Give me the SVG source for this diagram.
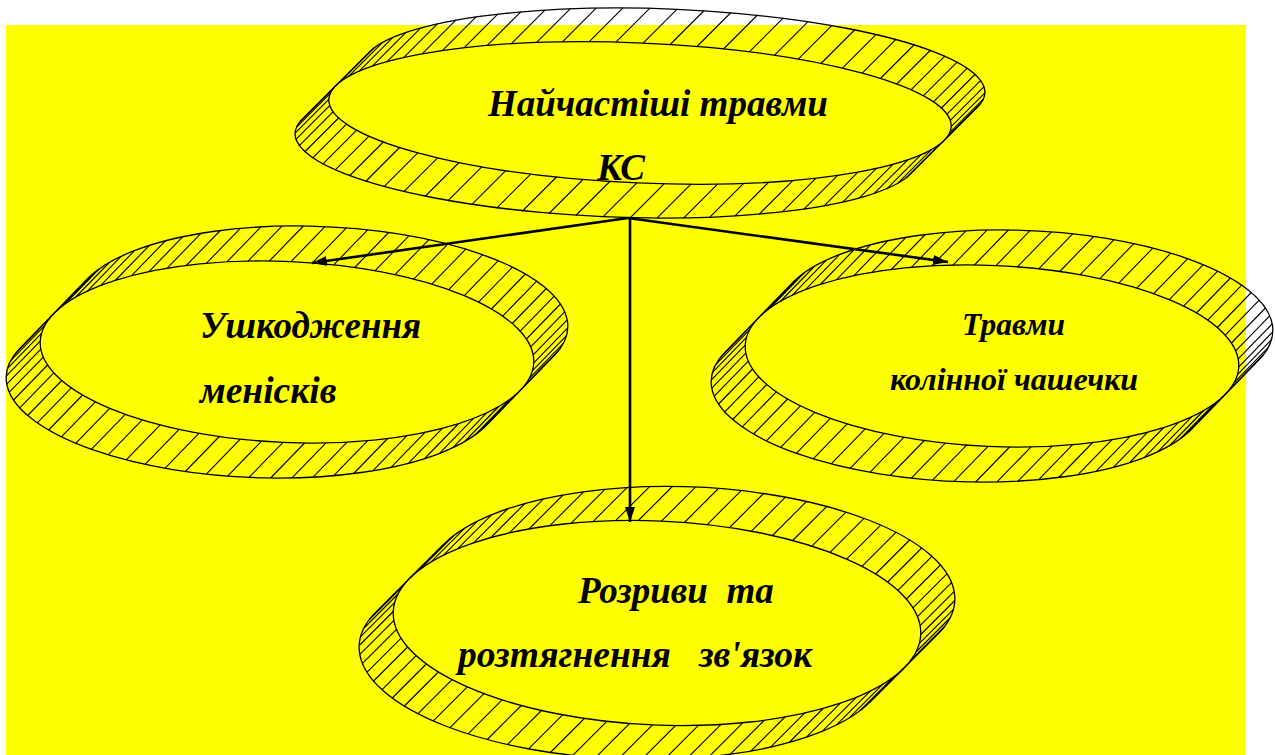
<svg xmlns="http://www.w3.org/2000/svg" xmlns:xlink="http://www.w3.org/1999/xlink" width="1275" height="755" viewBox="0 0 1275 755">
<defs>
<style>
.ring{fill:none;stroke:#000;stroke-width:1.3}
.hatch{fill:none;stroke:#000;stroke-width:1.1}
.lbl{font-family:"Liberation Serif","Times New Roman",serif;font-weight:bold;font-style:italic;fill:#000}
.conn{fill:none;stroke:#000;stroke-width:2.6}
</style>
<marker id="arr" markerUnits="userSpaceOnUse" markerWidth="16" markerHeight="12" refX="15" refY="5" orient="auto">
<path d="M0,0 L15,5 L0,10 z" fill="#000"/>
</marker>
<path id="hTop" class="hatch" d="M-299.8 -31.2l34 -34M-291.4 -36.7l34 -34M-280.8 -41.9l34 -34M-268 -46.7l34 -34M-253.2 -51.2l34 -34M-236.4 -55.4l34 -34M-217.9 -59.1l34 -34M-197.7 -62.3l34 -34M-176 -65.1l34 -34M-153 -67.4l34 -34M-128.8 -69.1l34 -34M-103.6 -70.4l34 -34M-77.6 -71.1l34 -34M-51 -71.2l34 -34M-24.1 -70.8l34 -34M3.1 -69.9l34 -34M30.2 -68.5l34 -34M57 -66.5l34 -34M83.5 -64l34 -34M109.3 -61.1l34 -34M134.3 -57.6l34 -34M158.2 -53.8l34 -34M181 -49.5l34 -34M202.4 -44.8l34 -34M222.2 -39.8l34 -34M240.4 -34.5l34 -34M256.7 -29l34 -34M271 -23.2l34 -34M283.3 -17.2l34 -34M293.5 -11.2l34 -34M301.4 -5l34 -34M307 1.2l34 -34M310.3 7.4l34 -34M311.2 13.6l34 -34M309.7 19.6l34 -34M305.9 25.5l34 -34"/>
<path id="hSide" class="hatch" d="M-230.5 -41l34 -35M-222 -48l34 -35M-211.7 -54.5l34 -35M-199.9 -60.7l34 -35M-186.5 -66.4l34 -35M-171.7 -71.5l34 -35M-155.6 -76.2l34 -35M-138.3 -80.2l34 -35M-120 -83.7l34 -35M-100.7 -86.5l34 -35M-80.7 -88.6l34 -35M-60.1 -90.1l34 -35M-39 -90.9l34 -35M-17.6 -91l34 -35M4 -90.4l34 -35M25.4 -89.1l34 -35M46.7 -87.2l34 -35M67.7 -84.5l34 -35M88.1 -81.3l34 -35M107.9 -77.4l34 -35M126.8 -72.9l34 -35M144.8 -67.9l34 -35M161.7 -62.3l34 -35M177.3 -56.3l34 -35M191.6 -49.9l34 -35M204.4 -43l34 -35M215.7 -35.9l34 -35M225.3 -28.5l34 -35M233.2 -20.8l34 -35M239.4 -13l34 -35M243.7 -5.1l34 -35M246.2 2.9l34 -35M246.8 10.8l34 -35M245.5 18.6l34 -35M242.3 26.3l34 -35M237.3 33.8l34 -35"/>
<path id="hBot" class="hatch" d="M-246.3 -45.7l34 -34M-237.2 -53.5l34 -34M-226.2 -60.9l34 -34M-213.5 -67.9l34 -34M-199.2 -74.3l34 -34M-183.4 -80.2l34 -34M-166.1 -85.5l34 -34M-147.6 -90.1l34 -34M-128 -94l34 -34M-107.4 -97.2l34 -34M-86 -99.7l34 -34M-64 -101.4l34 -34M-41.4 -102.4l34 -34M-18.6 -102.5l34 -34M4.5 -101.9l34 -34M27.4 -100.5l34 -34M50.2 -98.4l34 -34M72.6 -95.5l34 -34M94.4 -91.8l34 -34M115.5 -87.5l34 -34M135.7 -82.5l34 -34M154.9 -76.9l34 -34M173 -70.7l34 -34M189.7 -63.9l34 -34M204.9 -56.7l34 -34M218.6 -49l34 -34M230.7 -41l34 -34M240.9 -32.6l34 -34M249.4 -24l34 -34M255.9 -15.2l34 -34M260.5 -6.4l34 -34M263.1 2.6l34 -34M263.8 11.5l34 -34M262.4 20.4l34 -34M259 29l34 -34M253.6 37.5l34 -34"/>
<g id="ringTop">
<path class="ring" d="M-270.2 -61.4A311.5 70 2.5 0 1 338.2 -6.6L270.2 61.4A311.5 70 2.5 0 1 -338.2 6.6Z"/>
<ellipse class="ring" rx="311.5" ry="70" transform="rotate(2.5)"/>
<use xlink:href="#hTop"/>
<use xlink:href="#hTop" transform="rotate(180)"/>
</g>
<g id="ringSide">
<path class="ring" d="M-199.4 -73.3A247 90.5 2.5 0 1 267.4 3.3L199.4 73.3A247 90.5 2.5 0 1 -267.4 -3.3Z"/>
<ellipse class="ring" rx="247" ry="90.5" transform="rotate(2.5)"/>
<use xlink:href="#hSide"/>
<use xlink:href="#hSide" transform="rotate(180)"/>
</g>
<g id="ringBot">
<path class="ring" d="M-213.2 -78.9A264 102 2.5 0 1 281.2 10.9L213.2 78.9A264 102 2.5 0 1 -281.2 -10.9Z"/>
<ellipse class="ring" rx="264" ry="102" transform="rotate(2.5)"/>
<use xlink:href="#hBot"/>
<use xlink:href="#hBot" transform="rotate(180)"/>
</g>
</defs>
<rect x="6" y="25" width="1240" height="730" fill="#ffff00"/>
<g id="node-top">
<use xlink:href="#ringTop" transform="translate(640,113)"/>
<text class="lbl" x="488" y="116" font-size="37">Найчастіші травми</text>
<text class="lbl" x="597" y="180" font-size="37">КС</text>
</g>
<g id="node-left">
<use xlink:href="#ringSide" transform="translate(287,352)"/>
<text class="lbl" x="200" y="338" font-size="37">Ушкодження</text>
<text class="lbl" x="200" y="403" font-size="37.5">менісків</text>
</g>
<g id="node-right">
<use xlink:href="#ringSide" transform="translate(992,356)"/>
<text class="lbl" x="962" y="335" font-size="31.5">Травми</text>
<text class="lbl" x="890" y="390" font-size="32">колінної чашечки</text>
</g>
<g id="node-bottom">
<use xlink:href="#ringBot" transform="translate(657,623)"/>
<text class="lbl" x="578" y="603" font-size="37" xml:space="preserve">Розриви  та</text>
<text class="lbl" x="458" y="667" font-size="37.5" xml:space="preserve">розтягнення   зв'язок</text>
</g>
<g id="connectors">
<line class="conn" x1="628" y1="218" x2="312" y2="263" marker-end="url(#arr)"/>
<line class="conn" x1="628" y1="218" x2="948" y2="262" marker-end="url(#arr)"/>
<line class="conn" x1="630" y1="218" x2="630" y2="522" marker-end="url(#arr)"/>
</g>
</svg>
